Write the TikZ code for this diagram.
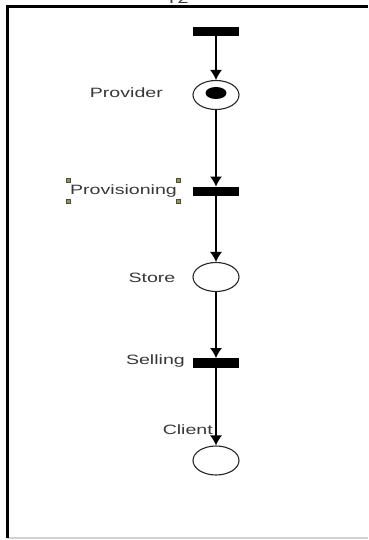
\documentclass[tikz,border=0pt]{standalone}
\usepackage{fontspec}
\newfontfamily\lblfont[FakeStretch=1.45]{Liberation Sans}
\usetikzlibrary{arrows.meta,shapes.geometric}
\definecolor{handle}{RGB}{150,150,70}
\begin{document}
\begin{tikzpicture}[x=1pt,y=-1pt,
  place/.style={draw=black!85,line width=1.1pt,ellipse,minimum width=46pt,minimum height=29pt,inner sep=0pt},
  trans/.style={fill=black,draw=none,rectangle,minimum width=46pt,minimum height=9.5pt,inner sep=0pt},
  lbl/.style={font=\lblfont\fontsize{13.5}{15}\selectfont,text=black!78,inner sep=0pt},
  arc/.style={draw=black,line width=1.2pt,-{Latex[length=10pt,width=12pt]}},
  hnd/.style={draw=black!70,fill=handle,line width=0.5pt,minimum size=4pt,inner sep=0pt,rectangle}]
  % page and frame
  \fill[white] (0,0) rectangle (368,540);
  \useasboundingbox (0,0) rectangle (368,540);
  \draw[gray!35,line width=1.5pt] (7,538) -- (368,538);

  % net elements
  \node[lbl,anchor=base] (lt2) at (177,4) {T2};
  \node[trans] (t2) at (216,31.5) {};
  \node[place] (provider) at (216,95) {};
  \node[fill=black,ellipse,minimum width=21pt,minimum height=12pt,inner sep=0pt] (token) at (216,93) {};
  \node[trans] (provisioning) at (216,191.5) {};
  \node[place] (store) at (216,277) {};
  \node[trans] (selling) at (216,363) {};
  \node[place] (client) at (216,460.5) {};

  % labels
  \node[lbl,anchor=east] (lprovider) at (163,93) {Provider};
  \node[lbl,anchor=east,inner xsep=1.5pt,inner ysep=4pt] (lprovisioning) at (178.5,191) {Provisioning};
  \node[lbl,anchor=east] (lstore) at (175.5,278) {Store};
  \node[lbl,anchor=east] (lselling) at (185,361) {Selling};
  \node[lbl,anchor=east] (lclient) at (213,429.5) {Client};

  % selection handles around the Provisioning label
  \foreach \c in {north west,north east,south west,south east}
    \node[hnd] at (lprovisioning.\c) {};

  % arcs
  \draw[arc] (t2) -- (provider);
  \draw[arc] (provider) -- (provisioning);
  \draw[arc] (provisioning.center) -- (store);
  \draw[arc] (store) -- (selling);
  \draw[arc] (selling.center) -- (client);
  \node[trans] at (provisioning) {};
  \node[trans] at (selling) {};

  % frame lines
  \draw[black,line width=3pt] (7,538) -- (7,7) -- (368,7);
\end{tikzpicture}
\end{document}
